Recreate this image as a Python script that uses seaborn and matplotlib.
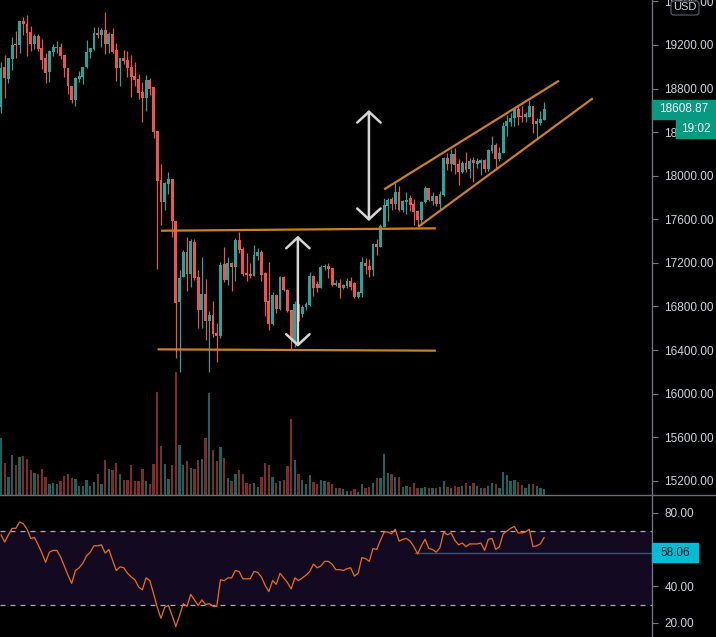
import numpy as np
import pandas as pd
import matplotlib
matplotlib.use("Agg")
import matplotlib.pyplot as plt
import seaborn as sns
from matplotlib.patches import Rectangle, FancyBboxPatch
from matplotlib.lines import Line2D

# ---------------- data ----------------
open_ = [18634, 18995, 18888, 19071, 19212, 19200, 19420, 19393, 19316, 19212,
         19283, 19175, 19078, 18955, 19138, 19175, 19179, 19108, 18986, 18826,
         18695, 18888, 18909, 18995, 19133, 19163, 19313, 19292, 19338, 19209,
         19301, 19154, 18992, 19078, 19062, 18995, 18915, 18888, 18768, 18716,
         18879, 18812, 18410, 17961, 17761, 17927, 17967, 17584, 16843, 17073,
         17302, 17098, 17394, 17073, 16767, 16914, 16666, 16721, 16553, 16531,
         17187, 17043, 17201, 17165, 17410, 17327, 17104, 17095, 17079, 17266,
         17302, 17110, 16850, 16636, 16905, 16776, 17073, 16951, 16767, 16485,
         16822, 16730, 16792, 16813, 17079, 17003, 16972, 17159, 17174, 17150,
         16997, 17018, 16972, 16988, 17033, 17015, 16889, 16926, 17201, 17171,
         17134, 17373, 17348, 17532, 17725, 17783, 17740, 17853, 17685, 17756,
         17793, 17740, 17679, 17593, 17761, 17890, 17768, 17814, 17740, 17823,
         18165, 18108, 18199, 18108, 18037, 18119, 18059, 18144, 18108, 18114,
         18144, 18062, 18227, 18282, 18153, 18206, 18456, 18496, 18527, 18610,
         18548, 18542, 18542, 18640, 18475, 18487, 18511]
high = [19047, 19108, 19081, 19271, 19331, 19420, 19460, 19475, 19374, 19301,
        19301, 19252, 19124, 19154, 19209, 19239, 19221, 19108, 18986, 18826,
        18909, 18961, 19001, 19246, 19170, 19368, 19368, 19353, 19500, 19322,
        19353, 19216, 19078, 19154, 19145, 19108, 19044, 18934, 18858, 18925,
        18899, 18812, 18410, 18108, 17945, 18031, 17970, 17584, 17134, 17318,
        17435, 17419, 17419, 17134, 17257, 17052, 16758, 16850, 16645, 17205,
        17343, 17251, 17211, 17425, 17480, 17343, 17288, 17196, 17364, 17334,
        17318, 17116, 17205, 16935, 16914, 17079, 17079, 16960, 16767, 16853,
        16822, 16813, 16841, 17119, 17089, 17036, 17180, 17190, 17196, 17153,
        17043, 17049, 17006, 17058, 17073, 17024, 16942, 17257, 17242, 17235,
        17385, 17419, 17557, 17793, 17793, 17807, 17930, 17906, 17777, 17853,
        17823, 17783, 17685, 17768, 17906, 17890, 17853, 17814, 17860, 18175,
        18211, 18243, 18252, 18151, 18138, 18220, 18160, 18175, 18160, 18151,
        18151, 18243, 18365, 18298, 18266, 18490, 18557, 18578, 18628, 18640,
        18640, 18588, 18695, 18640, 18527, 18594, 18674]
low = [18573, 18711, 18854, 18970, 19078, 19129, 19292, 19099, 19148, 19163,
       19148, 18977, 18854, 18863, 19099, 19129, 19071, 18909, 18750, 18665,
       18643, 18858, 18842, 18990, 19078, 19154, 19267, 19184, 19117, 19129,
       19130, 18869, 18826, 19026, 18902, 18725, 18824, 18704, 18496, 18597,
       18741, 18349, 17148, 17548, 17685, 17832, 17440, 16331, 16201, 17067,
       16944, 16981, 17043, 16605, 16605, 16492, 16201, 16522, 16293, 16513,
       17027, 16997, 16944, 17036, 17288, 17082, 17036, 17064, 17075, 17226,
       17036, 16712, 16584, 16630, 16737, 16767, 16942, 16746, 16406, 16430,
       16669, 16706, 16767, 16808, 16899, 16935, 16969, 17134, 17064, 16988,
       16988, 16880, 16960, 16969, 16951, 16880, 16877, 16889, 17098, 17073,
       17082, 17272, 17346, 17529, 17587, 17685, 17692, 17676, 17670, 17648,
       17679, 17548, 17526, 17548, 17747, 17771, 17731, 17722, 17694, 17814,
       18052, 18046, 18016, 17915, 18022, 18037, 17982, 17945, 18068, 18007,
       18037, 18046, 18206, 18068, 18138, 18206, 18365, 18456, 18456, 18466,
       18496, 18496, 18542, 18389, 18343, 18466, 18511]
close = [18986, 18894, 19078, 19200, 19200, 19420, 19393, 19313, 19212, 19283,
         19163, 19062, 18940, 19145, 19179, 19184, 19102, 18986, 18826, 18695,
         18894, 18915, 18995, 19133, 19170, 19313, 19292, 19338, 19209, 19301,
         19138, 18992, 19078, 19053, 18992, 18909, 18879, 18762, 18716, 18879,
         18799, 18404, 17954, 17761, 17936, 17967, 17584, 16829, 17058, 17302,
         17098, 17403, 17064, 16767, 16914, 16666, 16721, 16544, 16531, 17180,
         17043, 17196, 17165, 17410, 17318, 17098, 17089, 17079, 17272, 17297,
         17089, 16843, 16636, 16905, 16776, 17073, 16951, 16761, 16492, 16822,
         16715, 16792, 16822, 17079, 16972, 16972, 17165, 17174, 17144, 16997,
         17018, 16972, 16997, 17033, 16978, 16889, 16930, 17205, 17174, 17134,
         17373, 17348, 17538, 17731, 17777, 17740, 17853, 17685, 17768, 17777,
         17731, 17670, 17593, 17761, 17890, 17777, 17814, 17740, 17832, 18165,
         18108, 18199, 18098, 18037, 18119, 18052, 18138, 18114, 18138, 18144,
         18062, 18236, 18282, 18153, 18211, 18456, 18502, 18527, 18610, 18542,
         18542, 18564, 18640, 18475, 18502, 18518, 18608.87]
volume = [170, 95, 54, 120, 90, 114, 117, 108, 75, 66,
          63, 78, 54, 33, 36, 33, 42, 57, 63, 51,
          48, 27, 27, 45, 27, 39, 63, 33, 105, 78,
          75, 96, 63, 45, 45, 90, 42, 42, 78, 42,
          33, 93, 309, 147, 93, 48, 90, 369, 150, 90,
          102, 81, 78, 105, 108, 171, 306, 135, 102, 144,
          111, 51, 42, 63, 75, 63, 36, 33, 36, 24,
          54, 96, 90, 54, 36, 42, 45, 87, 228, 105,
          63, 45, 33, 60, 39, 33, 45, 42, 39, 33,
          21, 21, 18, 12, 12, 18, 9, 33, 20, 23,
          35, 52, 52, 123, 65, 63, 55, 55, 25, 27,
          25, 35, 22, 20, 25, 22, 20, 22, 25, 42,
          25, 22, 27, 25, 27, 35, 27, 35, 27, 20,
          20, 27, 35, 33, 22, 69, 60, 42, 45, 38,
          30, 20, 33, 33, 27, 20, 18]
rsi = [68, 64, 68, 71.5, 71.5, 75, 74, 71, 66, 66.5,
       62.5, 58, 53, 58.5, 59.5, 59.5, 56, 51, 46, 41.5,
       48.5, 50, 52.5, 56.5, 58.5, 62, 62, 62.5, 58, 60,
       54, 48.5, 50.5, 50, 47, 45, 43.5, 39.5, 38, 44.5,
       43, 36, 28.5, 22.5, 28.5, 29.5, 24, 18, 24, 30.5,
       29, 35.5, 32.5, 29.5, 32.5, 30, 30.5, 29, 29, 43.5,
       43, 44.5, 44.5, 48.5, 48, 44, 44, 44, 48, 47.5,
       45, 40.5, 37, 43, 41, 47, 44.5, 42, 38.5, 44.5,
       43, 44.5, 46, 48, 52, 50, 51, 53.5, 53.5, 52,
       49, 49, 48.5, 49.5, 50, 45.5, 47, 55.5, 55, 53.5,
       60.5, 60, 65, 69.5, 69.5, 68.5, 71, 64.5, 65.5, 66,
       64.5, 61.5, 57.5, 62, 65.5, 60.5, 60, 58.5, 61, 69.5,
       68, 69, 65, 62.5, 63.5, 61.5, 63, 63, 63, 63.5,
       59.5, 65.5, 66, 60, 61.5, 68.5, 70, 71.5, 72.5, 69,
       69, 69.5, 71, 61.5, 62, 63, 66.5]
price_ticks = [15200, 15600, 16000, 16400, 16800, 17200, 17600, 18000,
               18400, 18800, 19200, 19600]
rsi_ticks = [20, 40, 80]
last_price = 18608.87
rsi_level = 58.06
# drawings (bar index, price)
resist_x, resist_y = [43.0, 116.9], [17495, 17517]
support_x, support_y = [42.1, 116.9], [16406, 16394]
chan_up_x, chan_up_y = [103.0, 150.0], [17875, 18872]
chan_lo_x, chan_lo_y = [112.2, 159.1], [17532, 18711]
arrow1 = (79.8, 16430, 17449)
arrow2 = (98.9, 17584, 18603)

# ---------------- style ----------------
sns.set_theme(style="dark")
plt.rcParams["font.family"] = ["Liberation Sans", "DejaVu Sans"]
plt.rcParams["axes.grid"] = False

UP, DN = "#26a69a", "#ef5350"
VUP, VDN = "#19645c", "#7e2b2b"
AXC = "#787b86"
TXT = "#d1d4dc"
ORANGE = "#cf7f1f"

df = pd.DataFrame({"open": open_, "high": high, "low": low, "close": close,
                   "volume": volume, "rsi": rsi})
df["idx"] = np.arange(len(df))
up = df["close"] >= df["open"]
cols = np.where(up, UP, DN)
vcols = np.where(up, VUP, VDN)

W, H = 716, 637
fig = plt.figure(figsize=(W / 100, H / 100), dpi=100, facecolor="black")
xr = 652 / W
split = (H - 495) / H
XLIM = (-0.27, 175.0)

axv = fig.add_axes([0, split, xr, 1 - split])
ax = fig.add_axes([0, split, xr, 1 - split])
axr = fig.add_axes([0, 0, xr, split])

# volume
axv.set_facecolor("black")
axv.bar(df["idx"], df["volume"], width=0.62, color=vcols, linewidth=0)
axv.set_xlim(*XLIM)
axv.set_ylim(0, 1485)
axv.set_axis_off()

# candles
ax.set_facecolor("none")
ax.vlines(df["idx"], df["low"], df["high"], colors=cols, linewidth=0.85)
body_lo = np.minimum(df["open"], df["close"])
body_h = np.maximum(np.abs(df["close"] - df["open"]), 9)
ax.bar(df["idx"], body_h, bottom=body_lo, width=0.78, color=cols, linewidth=0)

# drawings
for xs, ys in [(resist_x, resist_y), (support_x, support_y),
               (chan_up_x, chan_up_y), (chan_lo_x, chan_lo_y)]:
    ax.plot(xs, ys, color=ORANGE, lw=1.6, solid_capstyle="butt")
for xa, y0, y1 in [arrow1, arrow2]:
    ax.annotate("", xy=(xa, y1), xytext=(xa, y0),
                arrowprops=dict(arrowstyle="<->,head_length=0.65,head_width=0.7",
                                color="#d6d6d6", lw=1.8, shrinkA=0, shrinkB=0))

ax.set_xlim(*XLIM)
ax.set_ylim(15069, 19613)
ax.yaxis.tick_right()
ax.set_yticks(price_ticks)
ax.set_yticklabels([f"{t:.2f}" for t in price_ticks])
ax.set_xticks([])
ax.tick_params(axis="y", colors=AXC, labelcolor=TXT, labelsize=8.5,
               length=4, width=0.8, pad=5, direction="out")
for s in ["top", "left", "bottom"]:
    ax.spines[s].set_visible(False)
ax.spines["right"].set_color(AXC)
ax.spines["right"].set_linewidth(0.9)

# RSI panel
axr.set_facecolor("black")
axr.axhspan(30, 70, color="#130a22", lw=0)
axr.axhline(70, color="#a9acb5", lw=0.9, ls=(0, (4, 4)))
axr.axhline(30, color="#a9acb5", lw=0.9, ls=(0, (4, 4)))
axr.plot([111.3, XLIM[1]], [rsi_level, rsi_level], color="#1f5f70", lw=1.0)
sns.lineplot(data=df, x="idx", y="rsi", ax=axr, color="#ec6e13", lw=0.9,
             legend=False)
axr.set_xlim(*XLIM)
axr.set_ylim(12.3, 89.65)
axr.yaxis.tick_right()
axr.set_yticks(rsi_ticks)
axr.set_yticklabels([f"{t:.2f}" for t in rsi_ticks])
axr.set_xticks([])
axr.set_xlabel("")
axr.set_ylabel("")
axr.tick_params(axis="y", colors=AXC, labelcolor=TXT, labelsize=8.5,
                length=4, width=0.8, pad=5, direction="out")
for s in ["top", "left", "bottom"]:
    axr.spines[s].set_visible(False)
axr.spines["right"].set_color(AXC)
axr.spines["right"].set_linewidth(0.9)

# panel separator
fig.add_artist(Line2D([0, 1], [split, split], transform=fig.transFigure,
                      color="#6a6d78", lw=1.0))

def fx(x):
    return x / W

def fy(y):
    return 1 - y / H

# price labels on the scale
fig.add_artist(Rectangle((fx(652), fy(119)), fx(64), 19 / H,
                         transform=fig.transFigure, color="#089981", zorder=5))
fig.text(fx(684), fy(109.5), f"{last_price:.2f}", color="white", fontsize=8.5,
         ha="center", va="center", zorder=6)
fig.add_artist(Rectangle((fx(676), fy(138)), fx(40), 18 / H,
                         transform=fig.transFigure, color="#089981", zorder=5))
fig.text(fx(696), fy(129), "19:02", color="white", fontsize=8.5,
         ha="center", va="center", zorder=6)
fig.add_artist(FancyBboxPatch((fx(671), fy(15)), fx(28), 14 / H,
                              boxstyle="round,pad=0,rounding_size=0.004",
                              transform=fig.transFigure, facecolor="black",
                              edgecolor="#5d606b", lw=0.8, zorder=5))
fig.text(fx(685), fy(7.5), "USD", color=TXT, fontsize=8,
         ha="center", va="center", zorder=6)
fig.add_artist(Rectangle((fx(652), fy(562)), fx(46), 19 / H,
                         transform=fig.transFigure, color="#00bcd4", zorder=5))
fig.text(fx(675), fy(552.5), f"{rsi_level:.2f}", color="#131722", fontsize=8.5,
         ha="center", va="center", zorder=6)

fig.savefig("out.png", dpi=100, facecolor="black")
